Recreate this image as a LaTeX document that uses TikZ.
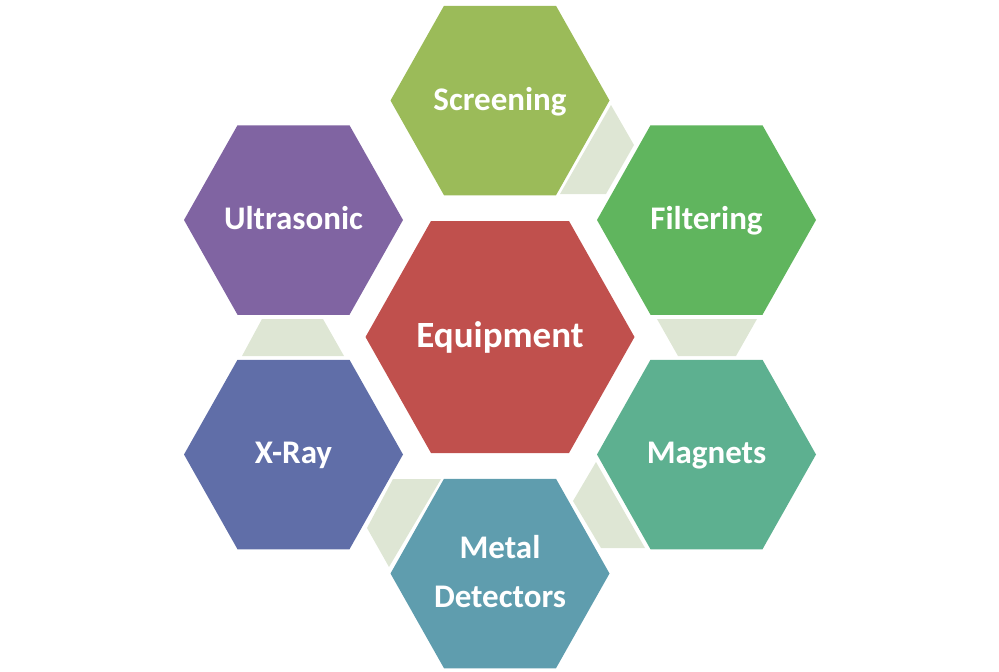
\documentclass[tikz,border=0pt]{standalone}
\usepackage{fontspec}
\setmainfont{Carlito}
\definecolor{cScr}{HTML}{9BBB59}
\definecolor{cFil}{HTML}{60B55E}
\definecolor{cMag}{HTML}{5DB090}
\definecolor{cMet}{HTML}{5F9DAE}
\definecolor{cXra}{HTML}{606EA8}
\definecolor{cUlt}{HTML}{8064A2}
\definecolor{cEqu}{HTML}{C0504D}
\definecolor{cCon}{HTML}{DEE6D4}
\newcommand\hexshape[5]{% center coordinate, colour, rx, e, ry
  \fill[#2] ([xshift=-#3pt]#1) -- ([xshift=-#4pt,yshift=#5pt]#1) -- ([xshift=#4pt,yshift=#5pt]#1)
    -- ([xshift=#3pt]#1) -- ([xshift=#4pt,yshift=-#5pt]#1) -- ([xshift=-#4pt,yshift=-#5pt]#1) -- cycle;}
\begin{document}
\begin{tikzpicture}[x=1pt,y=-1pt,
  lbl/.style={text=white,font=\bfseries\fontsize{33}{49}\selectfont,anchor=base,align=center,inner sep=0pt},
  biglbl/.style={lbl,font=\bfseries\fontsize{37}{44}\selectfont},
  conn/.style={fill=cCon}]
\useasboundingbox (0,0) rectangle (999,672);
% centres
\coordinate (scrc) at (500,100.5);
\coordinate (filc) at (706.5,220);
\coordinate (magc) at (706.5,454.5);
\coordinate (metc) at (500,573.5);
\coordinate (xrac) at (293.5,454.5);
\coordinate (ultc) at (293.5,220);
\coordinate (equc) at (500,337);
% connectors
\fill[conn] (611,105) -- (634,145) -- (606,194) -- (560,194) -- cycle;
\fill[conn] (657,319) -- (757,319) -- (736,356) -- (678,356) -- cycle;
\fill[conn] (596,462) -- (573,501) -- (601,548) -- (645,548) -- cycle;
\fill[conn] (393,479) -- (441,479) -- (389,567) -- (367,528) -- cycle;
\fill[conn] (262,319) -- (323,319) -- (344,356) -- (242,356) -- cycle;
% hexagons
\hexshape{scrc}{cScr}{109.5}{56}{94.75}
\hexshape{filc}{cFil}{109.5}{56}{94.75}
\hexshape{magc}{cMag}{109.5}{56}{94.75}
\hexshape{metc}{cMet}{109.5}{56}{94.75}
\hexshape{xrac}{cXra}{109.5}{56}{94.75}
\hexshape{ultc}{cUlt}{109.5}{56}{94.75}
\hexshape{equc}{cEqu}{134.5}{69}{116}
% labels
\node[lbl] (scr) at (500,110) {Screening};
\node[lbl] (fil) at (706.5,229) {Filtering};
\node[lbl] (mag) at (706.5,463) {Magnets};
\node[lbl] (met) at (500,607) {Metal\\Detectors};
\node[lbl] (xra) at (293.5,463) {X-Ray};
\node[lbl] (ult) at (293.5,229) {Ultrasonic};
\node[biglbl] (equ) at (500,347) {Equipment};
\end{tikzpicture}
\end{document}
